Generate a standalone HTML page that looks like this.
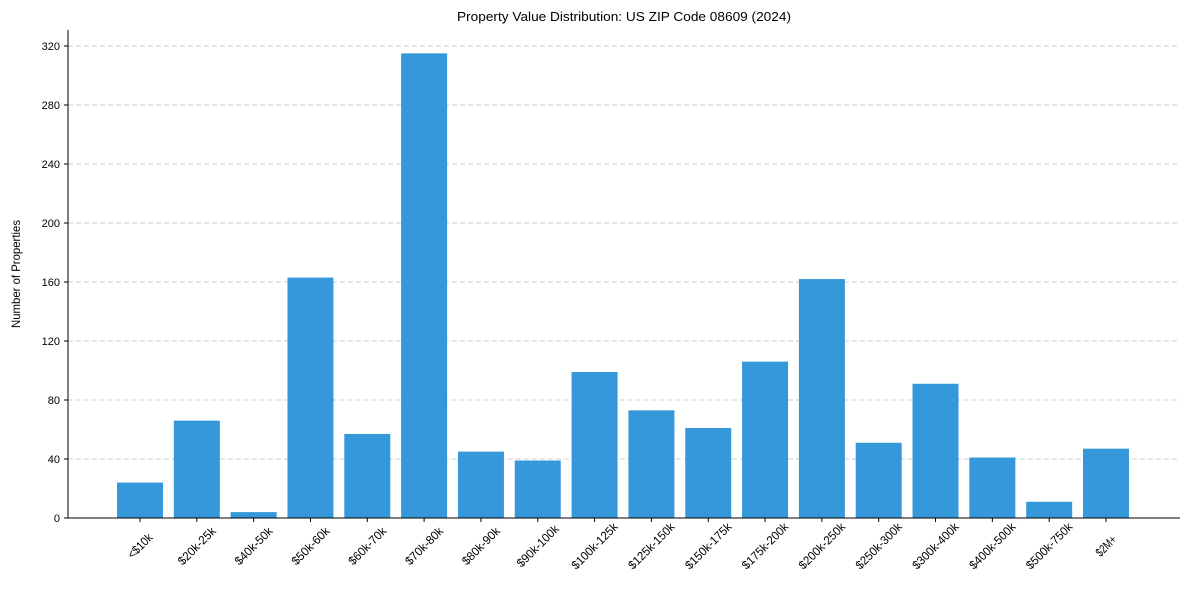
<!DOCTYPE html>
<html><head><meta charset="utf-8"><style>
body{margin:0;background:#fff;}
svg{display:block;font-family:"Liberation Sans",Arial,sans-serif;}
</style></head><body>
<svg id="chart" width="1190" height="590">
<text x="624" y="21" font-size="13" text-anchor="middle" textLength="334" lengthAdjust="spacingAndGlyphs">Property Value Distribution: US ZIP Code 08609 (2024)</text>
<text transform="translate(20,274) rotate(-90)" font-size="12" text-anchor="middle" textLength="108" lengthAdjust="spacingAndGlyphs">Number of Properties</text>
<g id="grid"></g><g id="bars"></g><g id="axes"></g>
</svg>
<script>
const categories=["<$10k","$20k-25k","$40k-50k","$50k-60k","$60k-70k","$70k-80k","$80k-90k","$90k-100k","$100k-125k","$125k-150k","$150k-175k","$175k-200k","$200k-250k","$250k-300k","$300k-400k","$400k-500k","$500k-750k","$2M+"];
const values=[24,66,4,163,57,315,45,39,99,73,61,106,162,51,91,41,11,47];
const yTicks=[0,40,80,120,160,200,240,280,320];
const NS="http://www.w3.org/2000/svg";
const x0=68,x1=1180,yB=518,yT=30;
const y=v=>yB-v*(472/320);
const first=140,last=1106;
const step=(last-first)/(categories.length-1);
const xc=i=>first+i*step;
function mk(t,a,p){const e=document.createElementNS(NS,t);for(const k in a)e.setAttribute(k,a[k]);p.appendChild(e);return e;}
const grid=document.getElementById('grid'),bars=document.getElementById('bars'),axes=document.getElementById('axes');
yTicks.forEach(t=>{
 if(t>0){const g=mk('line',{x1:x0,x2:x1,y1:y(t),y2:y(t),stroke:'#cccccc','stroke-dasharray':'5,3','stroke-width':1},grid);
 
 }
 const tk=mk('line',{x1:x0-4,x2:x0,y1:y(t),y2:y(t),stroke:'#000'},axes);
 
 
 const lb=mk('text',{x:x0-8,y:y(t)+4,'font-size':11,'text-anchor':'end'},axes);
 lb.textContent=t;
 
 
});
values.forEach((v,i)=>{
 const r=mk('rect',{x:xc(i)-23,width:46,y:y(v),height:yB-y(v),fill:'#3498db'},bars);
 
 
});
categories.forEach((c,i)=>{
 const tk=mk('line',{x1:xc(i),x2:xc(i),y1:yB,y2:yB+4,stroke:'#000'},axes);
 
 
 const lb=mk('text',{x:xc(i),y:550,'font-size':12,'text-anchor':'middle',transform:`rotate(-45 ${xc(i)} 546)`,textLength:c.length*6,lengthAdjust:'spacingAndGlyphs'},axes);
 lb.textContent=c;
 
 
});
const sl=mk('line',{x1:x0,x2:x0,y1:yT,y2:yB,stroke:'#000'},axes);


const sb=mk('line',{x1:x0,x2:x1,y1:yB,y2:yB,stroke:'#000'},axes);


</script>
</body></html>
